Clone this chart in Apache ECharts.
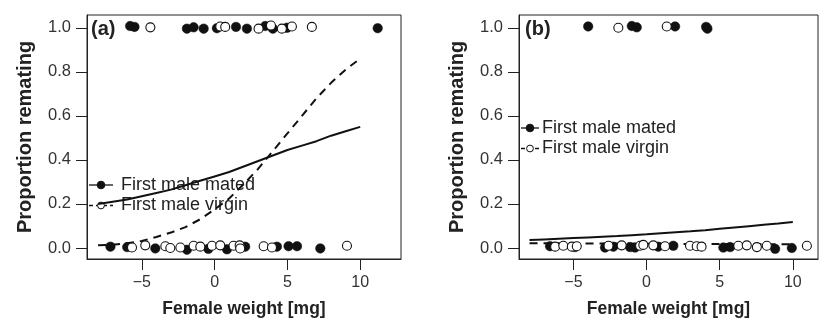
<!DOCTYPE html>
<html>
<head>
<meta charset="utf-8">
<script src="https://cdn.jsdelivr.net/npm/echarts@6/dist/echarts.min.js"></script>
<style>html,body{margin:0;padding:0;background:#fff;}#c{width:825px;height:324px;}</style>
</head>
<body>
<div id="c"></div>
<script>
// ---- data ----
const xTicks = [-5, 0, 5, 10];
const yTicks = [0, 0.2, 0.4, 0.6, 0.8, 1.0];
const curveX = [-8,-7,-6,-5,-4,-3,-2,-1,0,1,2,3,4,5,6,7,8,9,10];
// panel (a) fitted curves
const aMatedCurve  = [0.20,0.21,0.22,0.235,0.25,0.265,0.285,0.305,0.325,0.345,0.37,0.395,0.42,0.445,0.465,0.485,0.51,0.53,0.55];
const aVirginCurve = [0.012,0.015,0.022,0.032,0.05,0.07,0.095,0.13,0.175,0.225,0.29,0.36,0.44,0.52,0.60,0.68,0.75,0.81,0.86];
// panel (b) fitted curves
const bMatedCurve  = [0.036,0.039,0.042,0.045,0.048,0.051,0.054,0.058,0.062,0.067,0.072,0.076,0.081,0.087,0.093,0.099,0.105,0.111,0.118];
const bVirginCurve = [0.021,0.021,0.021,0.020,0.020,0.020,0.020,0.019,0.019,0.019,0.019,0.018,0.018,0.018,0.018,0.017,0.017,0.017,0.017];
// panel (a) observations [weight, remated]
const aMatedPts = [
  [-5.8,1.008],[-5.5,1.004],[-1.9,0.996],[-1.44,1.002],[-0.75,0.996],[0.16,0.998],[1.47,1.004],[2.22,0.996],[3.48,1.008],[4.0,0.996],[4.97,1.0],[11.2,0.998],
  [-7.15,0.006],[-6.0,0.004],[-4.07,-0.002],[-1.9,-0.008],[-0.43,-0.004],[0.85,-0.006],[2.1,0.006],[4.28,0.006],[5.08,0.008],[5.66,0.008],[7.26,-0.002]
];
const aVirginPts = [
  [-4.41,1.002],[0.39,1.006],[0.73,1.004],[3.02,0.996],[3.87,1.01],[4.62,0.996],[5.31,1.006],[6.68,1.004],
  [-5.67,0.002],[-4.76,0.012],[-3.38,0.008],[-3.04,0.0],[-2.35,0.002],[-1.44,0.01],[-0.98,0.006],[-0.18,0.01],[0.39,0.012],[1.3,0.01],[1.72,0.012],[1.76,-0.002],[3.37,0.008],[3.94,0.002],[9.09,0.01]
];
// panel (b) observations
const bMatedPts = [
  [-3.99,1.006],[-1.01,1.008],[-0.67,1.002],[1.95,1.006],[4.07,1.004],[4.16,0.996],
  [-6.6,0.008],[-4.9,0.004],[-2.84,0.002],[-2.27,0.006],[-1.13,0.004],[-0.79,0.002],[0.8,0.006],[1.83,0.01],[5.25,0.002],[5.71,0.004],[8.79,-0.004],[9.93,0.0]
];
const bVirginPts = [
  [-1.93,1.0],[1.38,1.006],
  [-6.25,0.006],[-5.69,0.01],[-5.11,0.006],[-4.77,0.008],[-2.6,0.01],[-1.7,0.012],[-0.44,0.01],[-0.22,0.014],[0.46,0.012],[1.26,0.008],[2.97,0.01],[3.43,0.008],[3.76,0.006],[6.27,0.01],[6.85,0.012],[7.54,0.004],[8.22,0.01],[10.96,0.01]
];
const legendLabels = ['First male mated', 'First male virgin'];
const panelLabels = ['(a)', '(b)'];
const xTitle = 'Female weight [mg]';
const yTitle = 'Proportion remating';

// ---- chart ----
const FONT = 'Liberation Sans, Arial, sans-serif';
const INK = '#222';
const pair = (xs, ys) => xs.map((x, i) => [x, ys[i]]);

const grids = [
  {left: 87, top: 15, width: 314, height: 244},
  {left: 519, top: 15, width: 299, height: 244}
];
const xRanges = [[-8.76, 12.8], [-8.72, 11.72]];

function xAxis(i) {
  return {
    type: 'value', gridIndex: i, min: xRanges[i][0], max: xRanges[i][1],
    axisLine: {show: true, onZero: false, lineStyle: {color: INK, width: 1}},
    splitLine: {show: false},
    axisTick: {show: true, length: 11, lineStyle: {color: INK, width: 1}, customValues: xTicks},
    axisLabel: {customValues: xTicks, fontSize: 16, color: '#333', fontFamily: FONT, margin: 16,
      formatter: v => (v < 0 ? '\u2212' + Math.abs(v) : String(v))},
    name: xTitle, nameLocation: 'middle', nameGap: 41,
    nameTextStyle: {fontWeight: 'bold', fontSize: 17.5, color: INK, fontFamily: FONT}
  };
}
function yAxis(i) {
  return {
    type: 'value', gridIndex: i, min: -0.05, max: 1.058,
    axisLine: {show: true, onZero: false, lineStyle: {color: INK, width: 1}},
    splitLine: {show: false},
    axisTick: {show: true, length: 11, lineStyle: {color: INK, width: 1}, customValues: yTicks},
    axisLabel: {customValues: yTicks, fontSize: 16.5, color: '#333', fontFamily: FONT, margin: 16,
      formatter: v => v.toFixed(1)},
    name: yTitle, nameLocation: 'middle', nameGap: 52, nameRotate: 90,
    nameTextStyle: {fontWeight: 'bold', fontSize: 20, color: INK, fontFamily: FONT}
  };
}
function lineSeries(i, ys, dashed) {
  return {type: 'line', xAxisIndex: i, yAxisIndex: i, data: pair(curveX, ys), showSymbol: false,
    smooth: false, silent: true, z: 3,
    lineStyle: {color: '#111', width: 2, type: dashed ? [8, 6] : 'solid'}};
}
function pointSeries(i, pts, filled) {
  return {type: 'scatter', xAxisIndex: i, yAxisIndex: i, data: pts, symbol: 'circle',
    symbolSize: filled ? 9.5 : 9, z: filled ? 4 : 5,
    itemStyle: filled ? {color: '#111', borderColor: '#111', borderWidth: 0.5, opacity: 1}
                      : {color: '#fff', borderColor: '#111', borderWidth: 1.1, opacity: 1}};
}

function legendGroup(x0, w, y0, textX) {
  const items = [];
  [0, 1].forEach(k => {
    const y = y0 + k * 20.5;
    items.push({type: 'line', shape: {x1: x0, y1: y, x2: x0 + w, y2: y},
      style: {stroke: '#111', lineWidth: 1.3, lineDash: k ? [4, 3] : null}});
    items.push({type: 'circle', shape: {cx: x0 + w / 2, cy: y, r: k ? 3.4 : 3.8},
      style: {fill: k ? '#fff' : '#111', stroke: '#111', lineWidth: 1}});
    items.push({type: 'text', x: textX, y: y,
      style: {text: legendLabels[k], fontSize: 18, fill: INK, fontFamily: FONT, verticalAlign: 'middle', align: 'left'}});
  });
  return items;
}

const option = {
  animation: false,
  backgroundColor: '#fff',
  grid: grids.map(g => Object.assign({show: true, borderColor: INK, borderWidth: 1, backgroundColor: 'transparent'}, g)),
  xAxis: [xAxis(0), xAxis(1)],
  yAxis: [yAxis(0), yAxis(1)],
  series: [
    lineSeries(0, aMatedCurve, false), lineSeries(0, aVirginCurve, true),
    pointSeries(0, aMatedPts, true), pointSeries(0, aVirginPts, false),
    lineSeries(1, bMatedCurve, false), lineSeries(1, bVirginCurve, true),
    pointSeries(1, bMatedPts, true), pointSeries(1, bVirginPts, false)
  ],
  graphic: [
    {type: 'text', x: 91, y: 29, style: {text: panelLabels[0], fontSize: 20, fontWeight: 'bold', fill: INK, fontFamily: FONT, verticalAlign: 'middle'}},
    {type: 'text', x: 525, y: 29, style: {text: panelLabels[1], fontSize: 20, fontWeight: 'bold', fill: INK, fontFamily: FONT, verticalAlign: 'middle'}}
  ].concat(legendGroup(89, 24, 185, 121), legendGroup(521, 18, 128, 542))
};

const chart = echarts.init(document.getElementById('c'), null, {renderer: 'canvas'});
chart.setOption(option);
</script>
</body>
</html>
